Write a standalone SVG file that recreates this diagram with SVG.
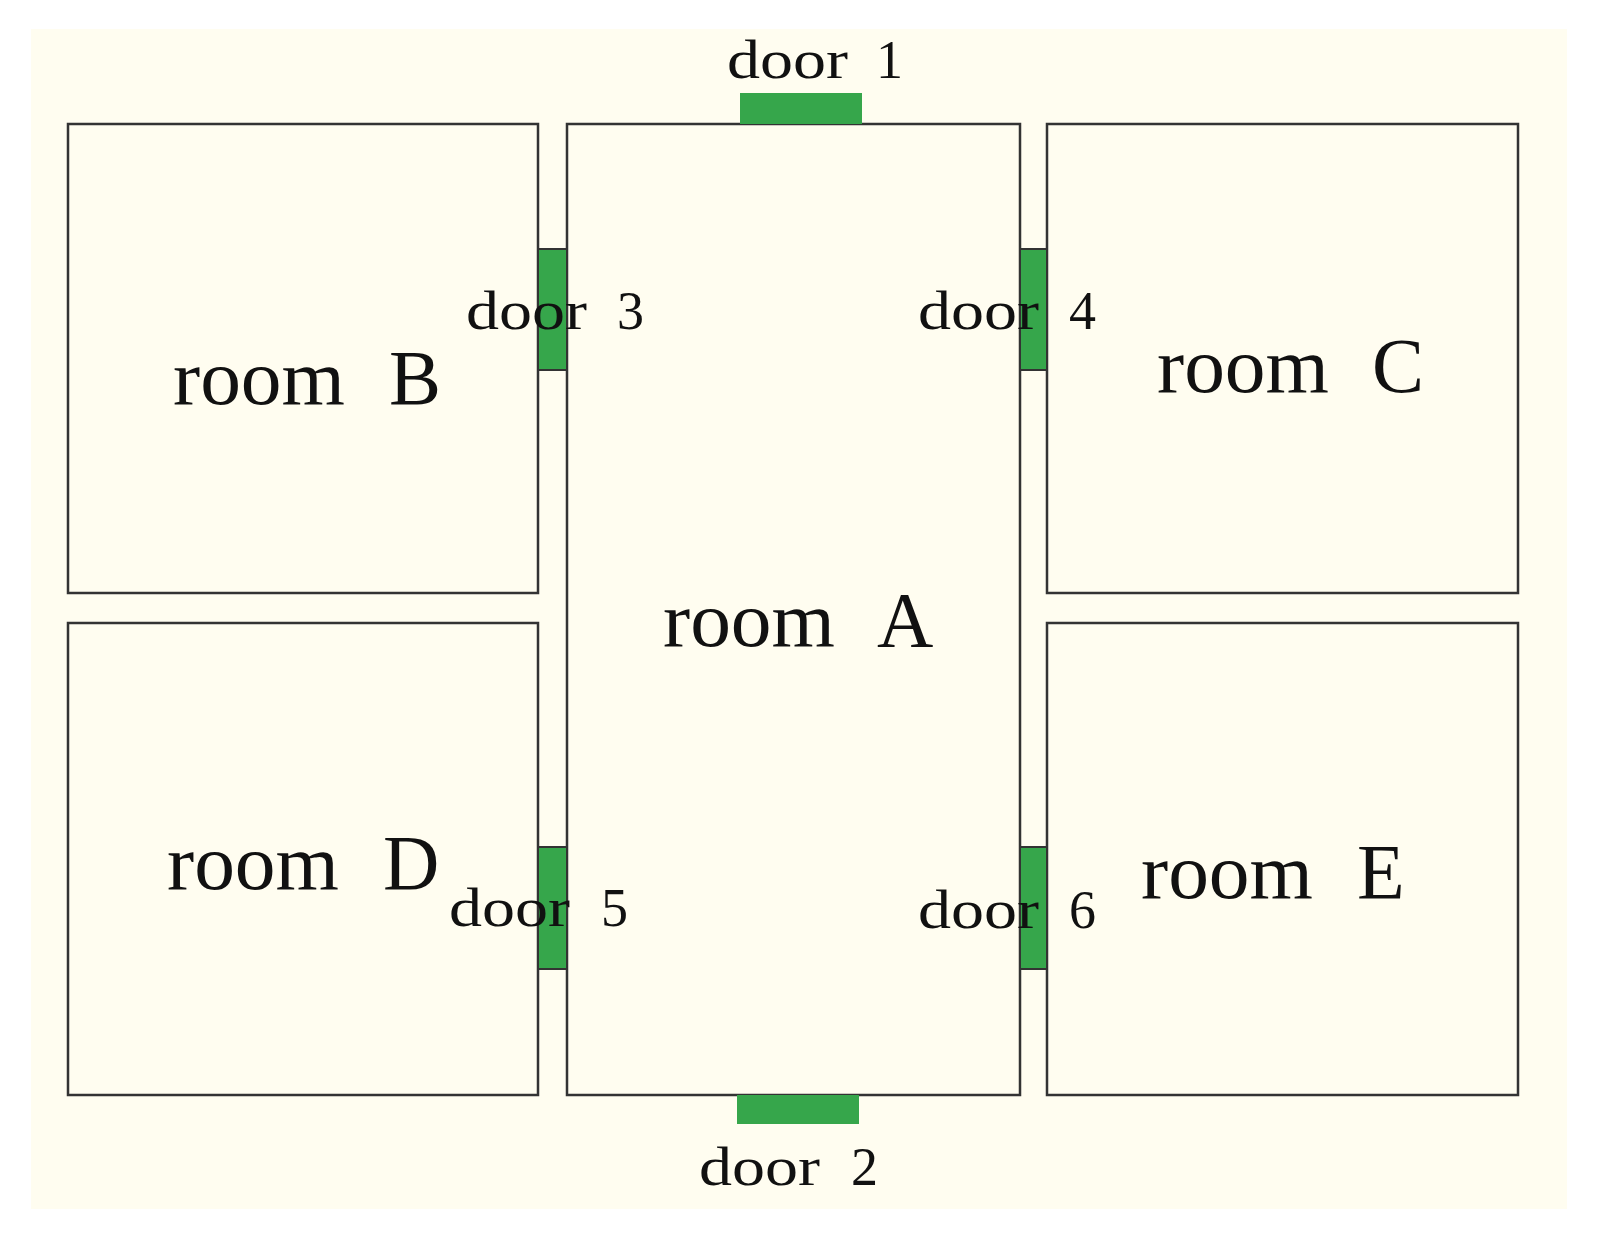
<svg xmlns="http://www.w3.org/2000/svg" width="1611" height="1257" viewBox="0 0 1611 1257">
<style>
.room{fill:#fffdf0;stroke:#333;stroke-width:2.5}
.door{fill:#36a64b}
.sd{stroke:#333;stroke-width:2}
text{font-family:"Liberation Serif","DejaVu Serif",serif;fill:#111}
.rl{font-size:78px}
.dl{font-size:54px}
</style>
<rect width="1611" height="1257" fill="#fff"/>
<rect x="31" y="29" width="1536" height="1180" fill="#fffdf0"/>
<g id="roomB"><rect class="room" x="68" y="124" width="470" height="469"/><text class="rl" y="404"><tspan x="173" textLength="172" lengthAdjust="spacingAndGlyphs">room</tspan><tspan x="389">B</tspan></text></g>
<g id="roomD"><rect class="room" x="68" y="623" width="470" height="472"/><text class="rl" y="889"><tspan x="167" textLength="172" lengthAdjust="spacingAndGlyphs">room</tspan><tspan x="383">D</tspan></text></g>
<g id="roomA"><rect class="room" x="567" y="124" width="453" height="971"/><text class="rl" y="646"><tspan x="663" textLength="172" lengthAdjust="spacingAndGlyphs">room</tspan><tspan x="877">A</tspan></text></g>
<g id="roomC"><rect class="room" x="1047" y="124" width="471" height="469"/><text class="rl" y="392"><tspan x="1157" textLength="172" lengthAdjust="spacingAndGlyphs">room</tspan><tspan x="1372">C</tspan></text></g>
<g id="roomE"><rect class="room" x="1047" y="623" width="471" height="472"/><text class="rl" y="898"><tspan x="1141" textLength="172" lengthAdjust="spacingAndGlyphs">room</tspan><tspan x="1357">E</tspan></text></g>
<g id="door1"><rect class="door" x="740" y="93" width="122" height="31"/><text class="dl" y="78"><tspan x="727" textLength="121" lengthAdjust="spacingAndGlyphs">door</tspan><tspan x="876">1</tspan></text></g>
<g id="door2"><rect class="door" x="737" y="1095" width="122" height="29"/><text class="dl" y="1185"><tspan x="699" textLength="121" lengthAdjust="spacingAndGlyphs">door</tspan><tspan x="851">2</tspan></text></g>
<g id="door3"><rect class="door sd" x="538" y="249" width="29" height="121"/><text class="dl" y="329"><tspan x="466" textLength="121" lengthAdjust="spacingAndGlyphs">door</tspan><tspan x="617">3</tspan></text></g>
<g id="door4"><rect class="door sd" x="1020" y="249" width="27" height="121"/><text class="dl" y="329"><tspan x="918" textLength="121" lengthAdjust="spacingAndGlyphs">door</tspan><tspan x="1069">4</tspan></text></g>
<g id="door5"><rect class="door sd" x="538" y="847" width="29" height="122"/><text class="dl" y="926"><tspan x="449" textLength="121" lengthAdjust="spacingAndGlyphs">door</tspan><tspan x="601">5</tspan></text></g>
<g id="door6"><rect class="door sd" x="1020" y="847" width="27" height="122"/><text class="dl" y="928"><tspan x="918" textLength="121" lengthAdjust="spacingAndGlyphs">door</tspan><tspan x="1069">6</tspan></text></g>
<g id="connectors"></g>
</svg>
